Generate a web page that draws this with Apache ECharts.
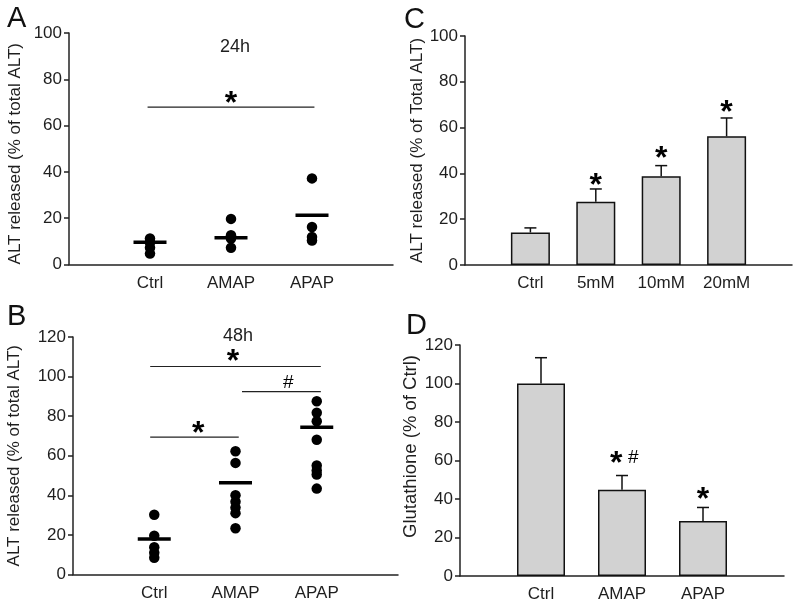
<!DOCTYPE html>
<html><head><meta charset="utf-8">
<script src="https://cdn.jsdelivr.net/npm/echarts@6.0.0/dist/echarts.min.js"></script>
<style>html,body{margin:0;padding:0;background:#fff}#c{width:800px;height:608px}</style>
</head><body><div id="c"></div>
<script>
// ---- Panel A (24h) ----
const catsA = ['Ctrl', 'AMAP', 'APAP'];
const ctrlA = [11.2, 9.5, 7.2, 4.7];
const amapA = [19.7, 12.6, 11.2, 7.2];
const apapA = [37.2, 16.2, 11.9, 10.4];
const meanA = [9.6, 11.6, 21.3];
// ---- Panel B (48h) ----
const catsB = ['Ctrl', 'AMAP', 'APAP'];
const ctrlB = [30.2, 19.6, 13.8, 11.0, 8.5];
const amapB = [62.3, 56.4, 40.0, 36.8, 33.8, 31.0, 23.4];
const apapB = [87.5, 81.7, 77.4, 68.1, 55.1, 52.6, 50.5, 43.4];
const meanB = [18.0, 46.4, 74.4];
// ---- Panel C ----
const catsC = ['Ctrl', '5mM', '10mM', '20mM'];
const valC = [14.2, 27.6, 38.8, 56.2];
const errC = [2.0, 5.6, 4.6, 8.0];
// ---- Panel D ----
const catsD = ['Ctrl', 'AMAP', 'APAP'];
const valD = [100, 44.8, 28.6];
const errD = [13.4, 7.4, 7.0];
// ---- significance annotations ----
const sigLinesA = [[0.97, 3.03, 68]];
const sigLinesB = [[0.95, 3.05, 105.1], [2.08, 3.05, 92.4], [0.95, 2.04, 69.4]];
const marksA = [[2.0, 72.5, '*']];
const marksB = [[1.97, 111.5, '*'], [2.65, 97, '#'], [1.54, 75, '*']];
const marksC = [[2, 38, '*'], [3, 49.5, '*'], [4, 70, '*']];
const marksD = [[1.93, 62, '*'], [2.14, 61.3, '#'], [3, 43.5, '*']];

const FONT = '"Liberation Sans", Arial, Helvetica, sans-serif';
const TXT = '#1e1e1e';
const AX = '#222';

function xAxisFor(idx, cats, max) {
  return {
    gridIndex: idx, type: 'value', min: 0, max: max, interval: 1,
    splitLine: { show: false },
    axisLine: { show: true, onZero: false, lineStyle: { color: AX, width: 1.5 } },
    axisTick: { show: false },
    axisLabel: { color: TXT, fontSize: 17, fontFamily: FONT, margin: 10,
      formatter: v => cats[v - 1] || '' }
  };
}
function yAxisFor(idx, max, name, gap, fs, pad) {
  return {
    gridIndex: idx, type: 'value', min: 0, max: max, interval: 20,
    splitLine: { show: false },
    axisLine: { show: true, lineStyle: { color: AX, width: 1.5 } },
    axisTick: { show: true, length: 5, lineStyle: { color: AX, width: 1.5 } },
    axisLabel: { color: TXT, fontSize: 17, fontFamily: FONT, margin: 7 },
    name: name, nameLocation: 'middle', nameGap: gap,
    nameTextStyle: { color: TXT, fontSize: fs, fontFamily: FONT, padding: pad || 0 }
  };
}
function dots(idx, groups) {
  const data = [];
  groups.forEach((g, i) => g.forEach(v => data.push([i + 1, v])));
  return { type: 'scatter', xAxisIndex: idx, yAxisIndex: idx, data: data,
    symbol: 'circle', symbolSize: 10.5, itemStyle: { color: '#000', opacity: 1 }, z: 3 };
}
function means(idx, arr) {
  return { type: 'scatter', xAxisIndex: idx, yAxisIndex: idx,
    data: arr.map((v, i) => [i + 1, v]), symbol: 'rect', symbolSize: [33, 3.5],
    itemStyle: { color: '#000', opacity: 1 }, z: 4 };
}
function sigLines(idx, arr) {
  return arr.map(l => ({ type: 'line', xAxisIndex: idx, yAxisIndex: idx,
    data: [[l[0], l[2]], [l[1], l[2]]], symbol: 'none',
    lineStyle: { color: '#222', width: 1.2 }, z: 2 }));
}
function marks(idx, arr) {
  return { type: 'scatter', xAxisIndex: idx, yAxisIndex: idx,
    data: arr.map(m => ({ value: [m[0], m[1]], label: {
      formatter: m[2],
      fontSize: m[2] === '*' ? 32 : 19,
      fontWeight: m[2] === '*' ? 'bold' : 'normal',
      offset: m[2] === '*' ? [0, 8] : [0, 0] } })),
    symbol: 'circle', symbolSize: 1, itemStyle: { color: 'rgba(0,0,0,0)', opacity: 1 },
    label: { show: true, position: 'inside', color: '#000', opacity: 1, fontFamily: FONT },
    z: 5 };
}
function bars(idx, vals, w) {
  return { type: 'bar', xAxisIndex: idx, yAxisIndex: idx,
    data: vals.map((v, i) => [i + 1, v]), barWidth: w,
    itemStyle: { color: '#d2d2d2', borderColor: '#111', borderWidth: 1.5 }, z: 2 };
}
function errBars(idx, vals, errs) {
  return { type: 'custom', xAxisIndex: idx, yAxisIndex: idx,
    data: vals.map((v, i) => [i + 1, v, v + errs[i]]),
    renderItem: (params, api) => {
      const p0 = api.coord([api.value(0), api.value(1)]);
      const p1 = api.coord([api.value(0), api.value(2)]);
      const hw = 6;
      return { type: 'group', children: [
        { type: 'line', shape: { x1: p0[0], y1: p0[1], x2: p1[0], y2: p1[1] },
          style: { stroke: '#111', lineWidth: 1.5 } },
        { type: 'line', shape: { x1: p1[0] - hw, y1: p1[1], x2: p1[0] + hw, y2: p1[1] },
          style: { stroke: '#111', lineWidth: 1.5 } }
      ] };
    }, z: 1 };
}

const chart = echarts.init(document.getElementById('c'), null, { renderer: 'canvas' });
const option = {
  backgroundColor: '#fff',
  animation: false,
  textStyle: { fontFamily: FONT },
  title: [
    { text: '24h', left: 230, top: 33, textAlign: 'center',
      textStyle: { fontSize: 18, fontWeight: 'normal', color: TXT, fontFamily: FONT } },
    { text: '48h', left: 233, top: 322, textAlign: 'center',
      textStyle: { fontSize: 18, fontWeight: 'normal', color: TXT, fontFamily: FONT } }
  ],
  graphic: [
    { type: 'text', left: 7, top: 4, style: { text: 'A', fontSize: 29, fill: '#111', fontFamily: FONT } },
    { type: 'text', left: 7, top: 302, style: { text: 'B', fontSize: 29, fill: '#111', fontFamily: FONT } },
    { type: 'text', left: 404, top: 5, style: { text: 'C', fontSize: 29, fill: '#111', fontFamily: FONT } },
    { type: 'text', left: 406, top: 311, style: { text: 'D', fontSize: 29, fill: '#111', fontFamily: FONT } }
  ],
  grid: [
    { left: 69, top: 33, width: 324, height: 231.5 },
    { left: 73, top: 337, width: 325, height: 237.5 },
    { left: 465, top: 36, width: 327, height: 229 },
    { left: 460, top: 345, width: 324, height: 231 }
  ],
  xAxis: [
    xAxisFor(0, catsA, 4), xAxisFor(1, catsB, 4), xAxisFor(2, catsC, 5), xAxisFor(3, catsD, 4)
  ],
  yAxis: [
    yAxisFor(0, 100, 'ALT released (% of total ALT)', 45, 17, [0, 10, 0, 0]),
    yAxisFor(1, 120, 'ALT released (% of total ALT)', 50, 17),
    yAxisFor(2, 100, 'ALT released (% of Total ALT)', 37, 17),
    yAxisFor(3, 120, 'Glutathione (% of Ctrl)', 37, 18.5, [0, 0, 0, 28])
  ],
  series: [].concat(
    dots(0, [ctrlA, amapA, apapA]), means(0, meanA), sigLines(0, sigLinesA), marks(0, marksA),
    dots(1, [ctrlB, amapB, apapB]), means(1, meanB), sigLines(1, sigLinesB), marks(1, marksB),
    bars(2, valC, 39), errBars(2, valC, errC), marks(2, marksC),
    bars(3, valD, 48), errBars(3, valD, errD), marks(3, marksD)
  )
};
chart.setOption(option);
</script>
</body></html>
